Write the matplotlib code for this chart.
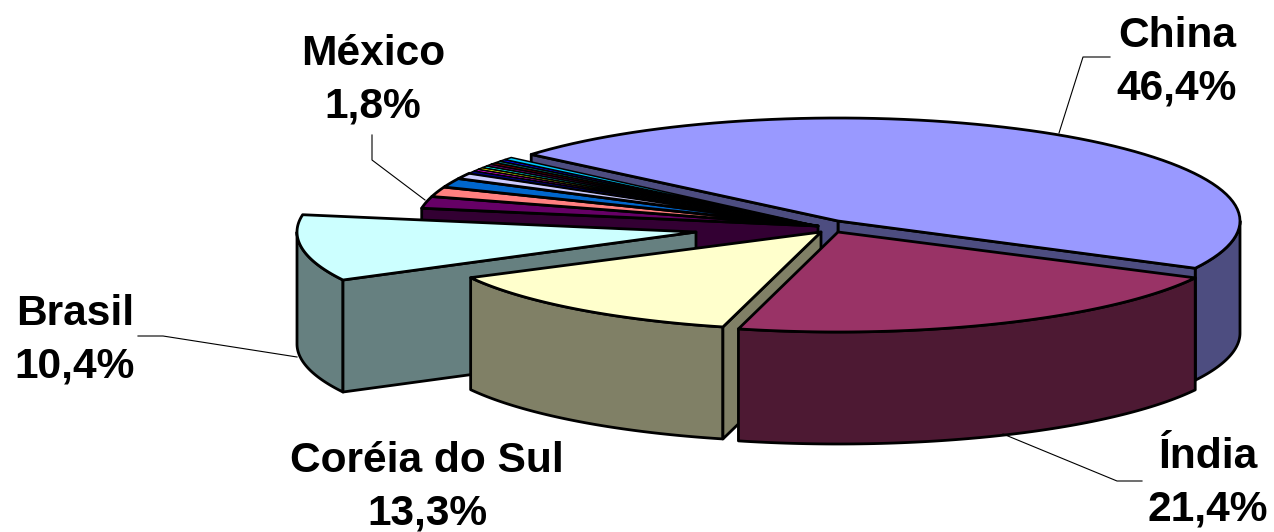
import numpy as np
import matplotlib
matplotlib.use("Agg")
import matplotlib.pyplot as plt
from matplotlib.patches import Polygon

# --- data (percent shares) ---
main_names = ["China", "Índia", "Coréia do Sul", "Brasil"]
main_values = [46.4, 21.4, 13.3, 10.4]
other_names = ["México", "País 6", "País 7", "País 8", "País 9", "País 10", "País 11", "País 12",
               "País 13", "País 14", "País 15", "País 16", "País 17"]
other_values = [1.8, 1.5, 1.4, 0.9, 0.4, 0.3, 0.3, 0.3, 0.3, 0.3, 0.3, 0.3, 0.4]
other_top = ["#660066", "#FF8080", "#0066CC", "#CCCCFF", "#000080", "#FF00FF", "#FFFF00",
             "#00FFFF", "#800080", "#800000", "#008080", "#0000FF", "#00CCFF"]
main_top = ["#9999FF", "#993366", "#FFFFCC", "#CCFFFF"]
main_side = ["#4D4D80", "#4D1933", "#808066", "#668080"]
other_side = "#330033"

# --- layout ---
W, H = 1274, 532
DEPTH = 112
CHINA_END = -27.3
geom = {
    "china": ((838, 221), 402, 103),
    "india": ((838, 232), 402, 100),
    "korea": ((821, 232), 396, 98),
    "brasil": ((696, 232), 399, 103),
    "other": ((818, 226), 402, 106),
}
LW = 2.0

plt.rcParams["font.family"] = ["Liberation Sans", "DejaVu Sans"]
fig = plt.figure(figsize=(W / 100, H / 100), dpi=100)
ax = fig.add_axes([0, 0, 1, 1])
ax.set_xlim(0, W)
ax.set_ylim(H, 0)
ax.axis("off")


def rim(g, t0, t1, n=80):
    c, a, b = g
    t = np.radians(np.linspace(t0, t1, n))
    return np.column_stack([c[0] + a * np.cos(t), c[1] - b * np.sin(t)])


def poly(pts, fc, z, lw=LW):
    ax.add_patch(Polygon(pts, closed=True, facecolor=fc, edgecolor="black",
                         linewidth=lw, joinstyle="round", zorder=z))


def cut_face(g, t, fc, z):
    c = g[0]
    p = rim(g, t, t, 1)[0]
    poly([c, p, (p[0], p[1] + DEPTH), (c[0], c[1] + DEPTH)], fc, z)


def outer_side(g, t0, t1, fc, z):
    top = rim(g, t0, t1)
    bot = top[::-1] + np.array([0, DEPTH])
    poly(np.vstack([top, bot]), fc, z)


def top_face(g, t0, t1, fc, z, lw=LW):
    poly(np.vstack([[g[0]], rim(g, t0, t1)]), fc, z, lw)


deg = [v * 3.6 for v in main_values]
china_start = CHINA_END + deg[0]
india_end = CHINA_END - deg[1]
korea_end = india_end - deg[2]
brasil_end = korea_end - deg[3]

# China
g = geom["china"]
outer_side(g, CHINA_END, 0, main_side[0], 1)
cut_face(g, CHINA_END, main_side[0], 2)
cut_face(g, china_start, main_side[0], 2)
top_face(g, CHINA_END, china_start, main_top[0], 3)

# small slices
g = geom["other"]
t = brasil_end
cut_face(g, t, other_side, 4)
for v, col in zip(other_values, other_top):
    t2 = t - v * 3.6
    top_face(g, t, t2, col, 5, lw=LW if v >= 0.9 else 1.1)
    t = t2

# Brasil
g = geom["brasil"]
outer_side(g, korea_end, -180, main_side[3], 6)
cut_face(g, korea_end, main_side[3], 6)
top_face(g, korea_end, brasil_end, main_top[3], 7)

# Coreia
g = geom["korea"]
outer_side(g, india_end, korea_end, main_side[2], 8)
cut_face(g, india_end, main_side[2], 8)
top_face(g, india_end, korea_end, main_top[2], 9)

# India
g = geom["india"]
outer_side(g, CHINA_END, india_end, main_side[1], 10)
top_face(g, CHINA_END, india_end, main_top[1], 11)

# labels
labels = [
    ("China\n46,4%", 1177, 62, [(1059, 133), (1083, 57), (1110, 57)]),
    ("México\n1,8%", 373, 80, [(425, 200), (372, 160), (372, 135)]),
    ("Brasil\n10,4%", 75, 340, [(297, 357), (163, 336), (138, 336)]),
    ("Coréia do Sul\n13,3%", 427, 487, None),
    ("Índia\n21,4%", 1208, 483, [(1003, 434), (1117, 481), (1142, 481)]),
]
for txt, x, y, leader in labels:
    ax.text(x, y, txt, ha="center", va="center", fontsize=30.6, fontweight="bold",
            linespacing=1.4, zorder=20, color="black")
    if leader:
        xs, ys = zip(*leader)
        ax.plot(xs, ys, color="black", lw=0.8, zorder=12)

fig.savefig("out.png", dpi=100)
